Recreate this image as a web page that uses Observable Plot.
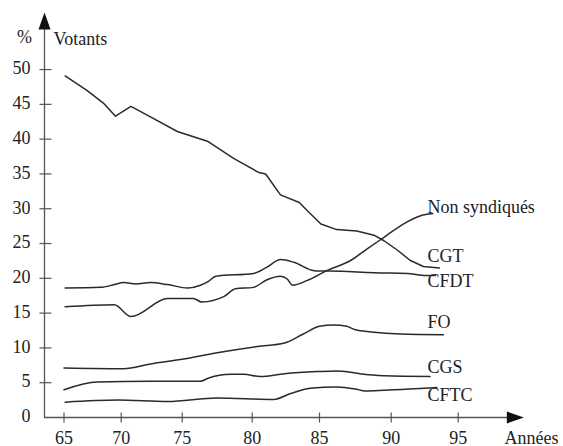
<!DOCTYPE html>
<html><head><meta charset="utf-8">
<script src="https://cdn.jsdelivr.net/npm/d3@7"></script>
<script src="https://cdn.jsdelivr.net/npm/@observablehq/plot@0.6"></script>
<style>body{margin:0;background:#fff}</style>
</head><body><div id="chart"></div>
<script>
// ---- data ----
const seriesNames = ["Non syndiqués", "CGT", "CFDT", "FO", "CGS", "CFTC"];

const yearsNonSynd = [65.1, 69.4, 70.8, 73.8, 75.8, 76.4, 78.0, 78.8, 80.1, 81.1, 82.1, 82.6, 83.0, 84.1, 85.5, 87.2, 88.3, 89.5, 90.9, 92.2, 93.1];
const valuesNonSynd = [15.9, 16.2, 14.5, 17.1, 17.1, 16.6, 17.4, 18.5, 18.7, 19.8, 20.3, 19.9, 19.0, 19.7, 21.1, 22.6, 24.2, 25.9, 27.8, 29.0, 29.3];

const yearsCGT = [65.1, 67.0, 68.5, 69.5, 70.8, 72.4, 74.6, 76.8, 78.7, 80.5, 81.0, 82.1, 83.5, 84.1, 85.1, 86.2, 87.6, 88.8, 89.5, 90.5, 91.4, 92.4, 93.6];
const valuesCGT = [49.1, 47.0, 45.1, 43.3, 44.7, 43.2, 41.1, 39.7, 37.2, 35.2, 35.0, 32.0, 30.9, 29.7, 27.8, 27.0, 26.8, 26.2, 25.4, 24.0, 22.6, 21.7, 21.5];

const yearsCFDT = [65.1, 68.2, 69.4, 70.2, 71.2, 72.4, 73.8, 75.4, 76.3, 76.9, 77.4, 80.1, 81.1, 82.1, 83.1, 84.6, 86.5, 88.8, 91.2, 92.6, 93.3];
const valuesCFDT = [18.6, 18.7, 19.1, 19.4, 19.2, 19.4, 19.1, 18.6, 19.0, 19.6, 20.3, 20.7, 21.6, 22.7, 22.3, 21.1, 21.0, 20.8, 20.7, 20.4, 20.4];

const yearsFO = [65.0, 70.2, 72.4, 75.1, 77.5, 80.4, 82.4, 83.8, 85.0, 86.0, 86.9, 87.5, 88.6, 90.7, 93.9];
const valuesFO = [7.1, 7.0, 7.7, 8.4, 9.3, 10.2, 10.7, 12.0, 13.1, 13.3, 13.1, 12.6, 12.3, 12.0, 11.9];

const yearsCGS = [65.0, 67.9, 72.4, 76.3, 76.8, 78.5, 79.4, 80.6, 82.4, 84.8, 86.2, 87.2, 88.1, 89.5, 92.9];
const valuesCGS = [4.0, 5.1, 5.2, 5.2, 5.6, 6.2, 6.2, 5.9, 6.3, 6.6, 6.7, 6.5, 6.2, 6.0, 5.9];

const yearsCFTC = [65.1, 69.7, 73.8, 77.5, 81.6, 82.8, 84.3, 86.2, 87.5, 88.2, 89.5, 92.4, 93.4];
const valuesCFTC = [2.2, 2.5, 2.3, 2.8, 2.6, 3.4, 4.2, 4.4, 4.1, 3.8, 3.9, 4.2, 4.3];

const xTicks = [65, 70, 75, 80, 85, 90, 95];
const yTickMarks = [5, 10, 15, 20, 25, 30, 35, 40, 45, 50];
const yTickLabels = [0, 5, 10, 15, 20, 25, 30, 35, 40, 45, 50];
const yUnit = "%";
const yTitle = "Votants";
const xTitle = "Années";

// ---- layout / style ----
const xStart = 63.3, xEnd = 99.9, yTop = 58.2;
const labelX = 92.7;
const labelDy = {"Non syndiqués": -1, "CGT": -5.4, "CFDT": 11.5, "FO": -6.2, "CGS": -3.9, "CFTC": 13.9};
const font = "Liberation Serif, Times New Roman, serif";
const lineColor = "#2a2a2a";
const axisColor = "#555";
const textColor = "#222";

const seriesData = {
  "Non syndiqués": [yearsNonSynd, valuesNonSynd],
  "CGT": [yearsCGT, valuesCGT],
  "CFDT": [yearsCFDT, valuesCFDT],
  "FO": [yearsFO, valuesFO],
  "CGS": [yearsCGS, valuesCGS],
  "CFTC": [yearsCFTC, valuesCFTC]
};
const rows = [];
for (const name of seriesNames) {
  const [ys, vs] = seriesData[name];
  ys.forEach((yr, i) => rows.push({name, year: yr, value: vs[i]}));
}
const lastPoints = seriesNames.map(name => {
  const vs = seriesData[name][1];
  return {name, value: vs[vs.length - 1]};
});

const arrowUp = {draw(c) { c.moveTo(0, 0); c.lineTo(6, 17); c.lineTo(-6, 17); c.closePath(); }};
const arrowRight = {draw(c) { c.moveTo(0, 0); c.lineTo(-17, -6); c.lineTo(-17, 6); c.closePath(); }};
const tickV = {draw(c) { c.moveTo(0, -5); c.lineTo(0, 5); }};
const tickH = {draw(c) { c.moveTo(-5, 0); c.lineTo(7, 0); }};

const labelMarks = lastPoints.map(p =>
  Plot.text([p], {x: () => labelX, y: "value", text: "name", dy: labelDy[p.name],
    textAnchor: "start", lineAnchor: "bottom", fill: textColor, fontSize: 18})
);

const chart = Plot.plot({
  width: 563,
  height: 446,
  marginLeft: 44, marginRight: 40, marginTop: 12, marginBottom: 29,
  style: {fontFamily: font, fontSize: "18px", background: "#fff", color: textColor},
  x: {type: "linear", domain: [xStart, 65, 70, 75, 80, 85, 90, 95, 100],
      range: [44, 63.5, 120.7, 181.7, 251.7, 319, 390.7, 457.7, 524.7], axis: null},
  y: {type: "linear", domain: [0, yTop], range: [417, 12], axis: null},
  marks: [
    // axes
    Plot.ruleX([xStart], {x: d => d, y1: 0, y2: yTop - 1.5, stroke: axisColor, strokeWidth: 1.3}),
    Plot.ruleY([0], {y: d => d, x1: xStart, x2: xEnd - 0.8, stroke: axisColor, strokeWidth: 1.3}),
    Plot.dot([0], {x: () => xStart, y: () => yTop, symbol: arrowUp, fill: "#111", stroke: "none"}),
    Plot.dot([0], {x: () => xEnd, y: () => 0, symbol: arrowRight, fill: "#111", stroke: "none"}),
    Plot.dot(xTicks, {x: d => d, y: () => 0, symbol: tickV, fill: "none", stroke: axisColor, strokeWidth: 1.2}),
    Plot.dot(yTickMarks, {x: () => xStart, y: d => d, symbol: tickH, fill: "none", stroke: axisColor, strokeWidth: 1.2}),
    Plot.text(xTicks, {x: d => d, y: () => 0, text: d => String(d), dy: 26, lineAnchor: "bottom", fill: textColor, fontSize: 18}),
    Plot.text(yTickLabels, {x: () => xStart, y: d => d, text: d => String(d), dx: -14, dy: -1, textAnchor: "end", lineAnchor: "middle", fill: textColor, fontSize: 18}),
    Plot.text([yUnit], {frameAnchor: "top-left", text: d => d, dx: -27.5, dy: 30, textAnchor: "start", lineAnchor: "bottom", fill: textColor, fontSize: 18}),
    Plot.text([yTitle], {frameAnchor: "top-left", text: d => d, dx: 9, dy: 32, textAnchor: "start", lineAnchor: "bottom", fill: textColor, fontSize: 18}),
    Plot.text([xTitle], {frameAnchor: "bottom-right", text: d => d, dx: -19, dy: 26, textAnchor: "start", lineAnchor: "bottom", fill: textColor, fontSize: 18}),
    // series
    Plot.line(rows.filter(d => d.name === "CGT"), {x: "year", y: "value", stroke: lineColor, strokeWidth: 1.5}),
    Plot.line(rows.filter(d => d.name !== "CGT"), {x: "year", y: "value", z: "name", stroke: lineColor, strokeWidth: 1.5, curve: "monotone-x"}),
    ...labelMarks
  ]
});
document.getElementById("chart").appendChild(chart);
</script>
</body></html>
